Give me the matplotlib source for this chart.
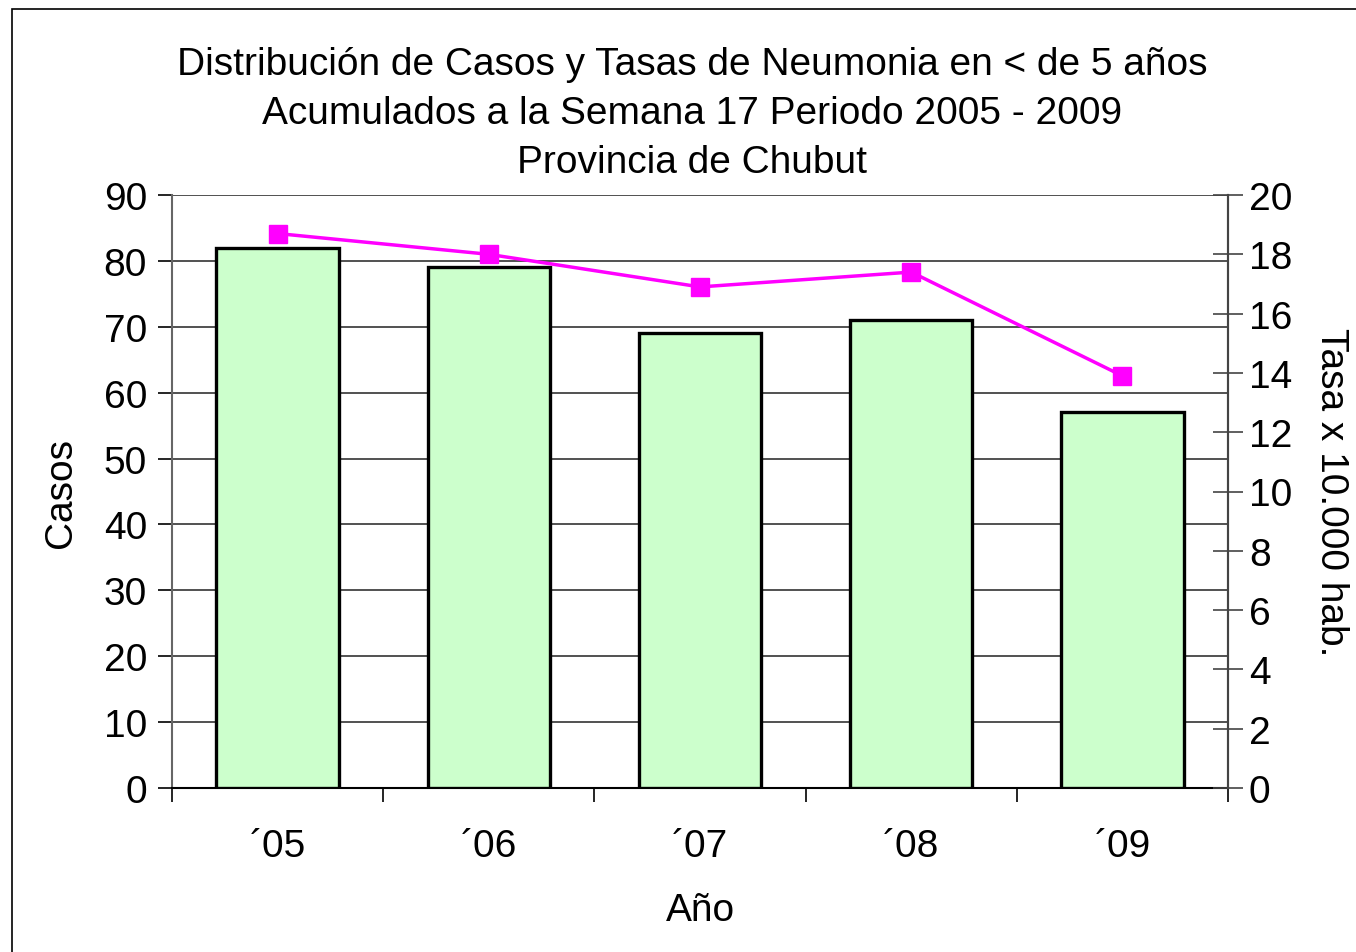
import matplotlib.pyplot as plt
from matplotlib.patches import Rectangle

plt.rcParams['font.family'] = ['Liberation Sans', 'DejaVu Sans']

anios = ['´05', '´06', '´07', '´08', '´09']
casos = [82, 79, 69, 71, 57]
tasas = [18.7, 18.0, 16.9, 17.4, 13.9]

fig = plt.figure(figsize=(13.56, 9.53), dpi=100)
# marco del grafico
fig.patches.append(Rectangle((12 / 1356, -0.1), 1.2, 1.1 - 10 / 953,
                             transform=fig.transFigure, fill=False,
                             edgecolor='black', linewidth=1.2))

ax = fig.add_axes([172 / 1356, 1 - 789 / 953, (1228 - 172) / 1356, (789 - 196) / 953])
x = list(range(len(anios)))
ax.bar(x, casos, width=0.58, color='#ccffcc', edgecolor='black', linewidth=2.4, zorder=3)
ax.set_xlim(-0.5, len(anios) - 0.5)
ax.set_ylim(0, 90)
ax.set_yticks(range(0, 91, 10))
ax.yaxis.grid(True, color='#333333', linewidth=1.2, zorder=0)
ax.set_axisbelow(True)

ax.set_xticks(x)
ax.set_xticklabels(anios)
ax.tick_params(axis='x', length=0, pad=29, labelsize=28)
ax.set_xticks([i + 0.5 for i in range(-1, len(anios))], minor=True)
ax.tick_params(axis='x', which='minor', length=10, width=1.2, direction='out')
ax.tick_params(axis='y', length=10, width=1.2, labelsize=28, pad=8)

ax.spines['top'].set_visible(False)
ax.spines['left'].set_color('#666666')
ax.spines['right'].set_color('#444444')
for s in ['left', 'bottom', 'right']:
    ax.spines[s].set_linewidth(1.5)

ax.set_ylabel('Casos', fontsize=28, labelpad=18)
ax.set_xlabel('Año', fontsize=28, labelpad=20)

ax2 = ax.twinx()
ax2.plot(x, tasas, color='#ff00ff', linewidth=2.5, marker='s', markersize=12.5, zorder=5)
ax2.set_ylim(0, 20)
ax2.set_yticks(range(0, 21, 2))
ax2.tick_params(axis='y', direction='inout', length=22, width=1.2, labelsize=28, pad=4, color='#444444')
for s in ['top', 'left', 'bottom']:
    ax2.spines[s].set_visible(False)
ax2.spines['right'].set_color('#444444')
ax2.spines['right'].set_linewidth(1.5)
ax2.set_ylabel('Tasa x 10.000 hab.', fontsize=28, rotation=-90, labelpad=41)

fig.text(692 / 1356, 1 - 114 / 953,
         'Distribución de Casos y Tasas de Neumonia en < de 5 años\n'
         'Acumulados a la Semana 17 Periodo 2005 - 2009\n'
         'Provincia de Chubut',
         ha='center', va='center', fontsize=28, linespacing=1.45)

fig.savefig('out.png', dpi=100)
